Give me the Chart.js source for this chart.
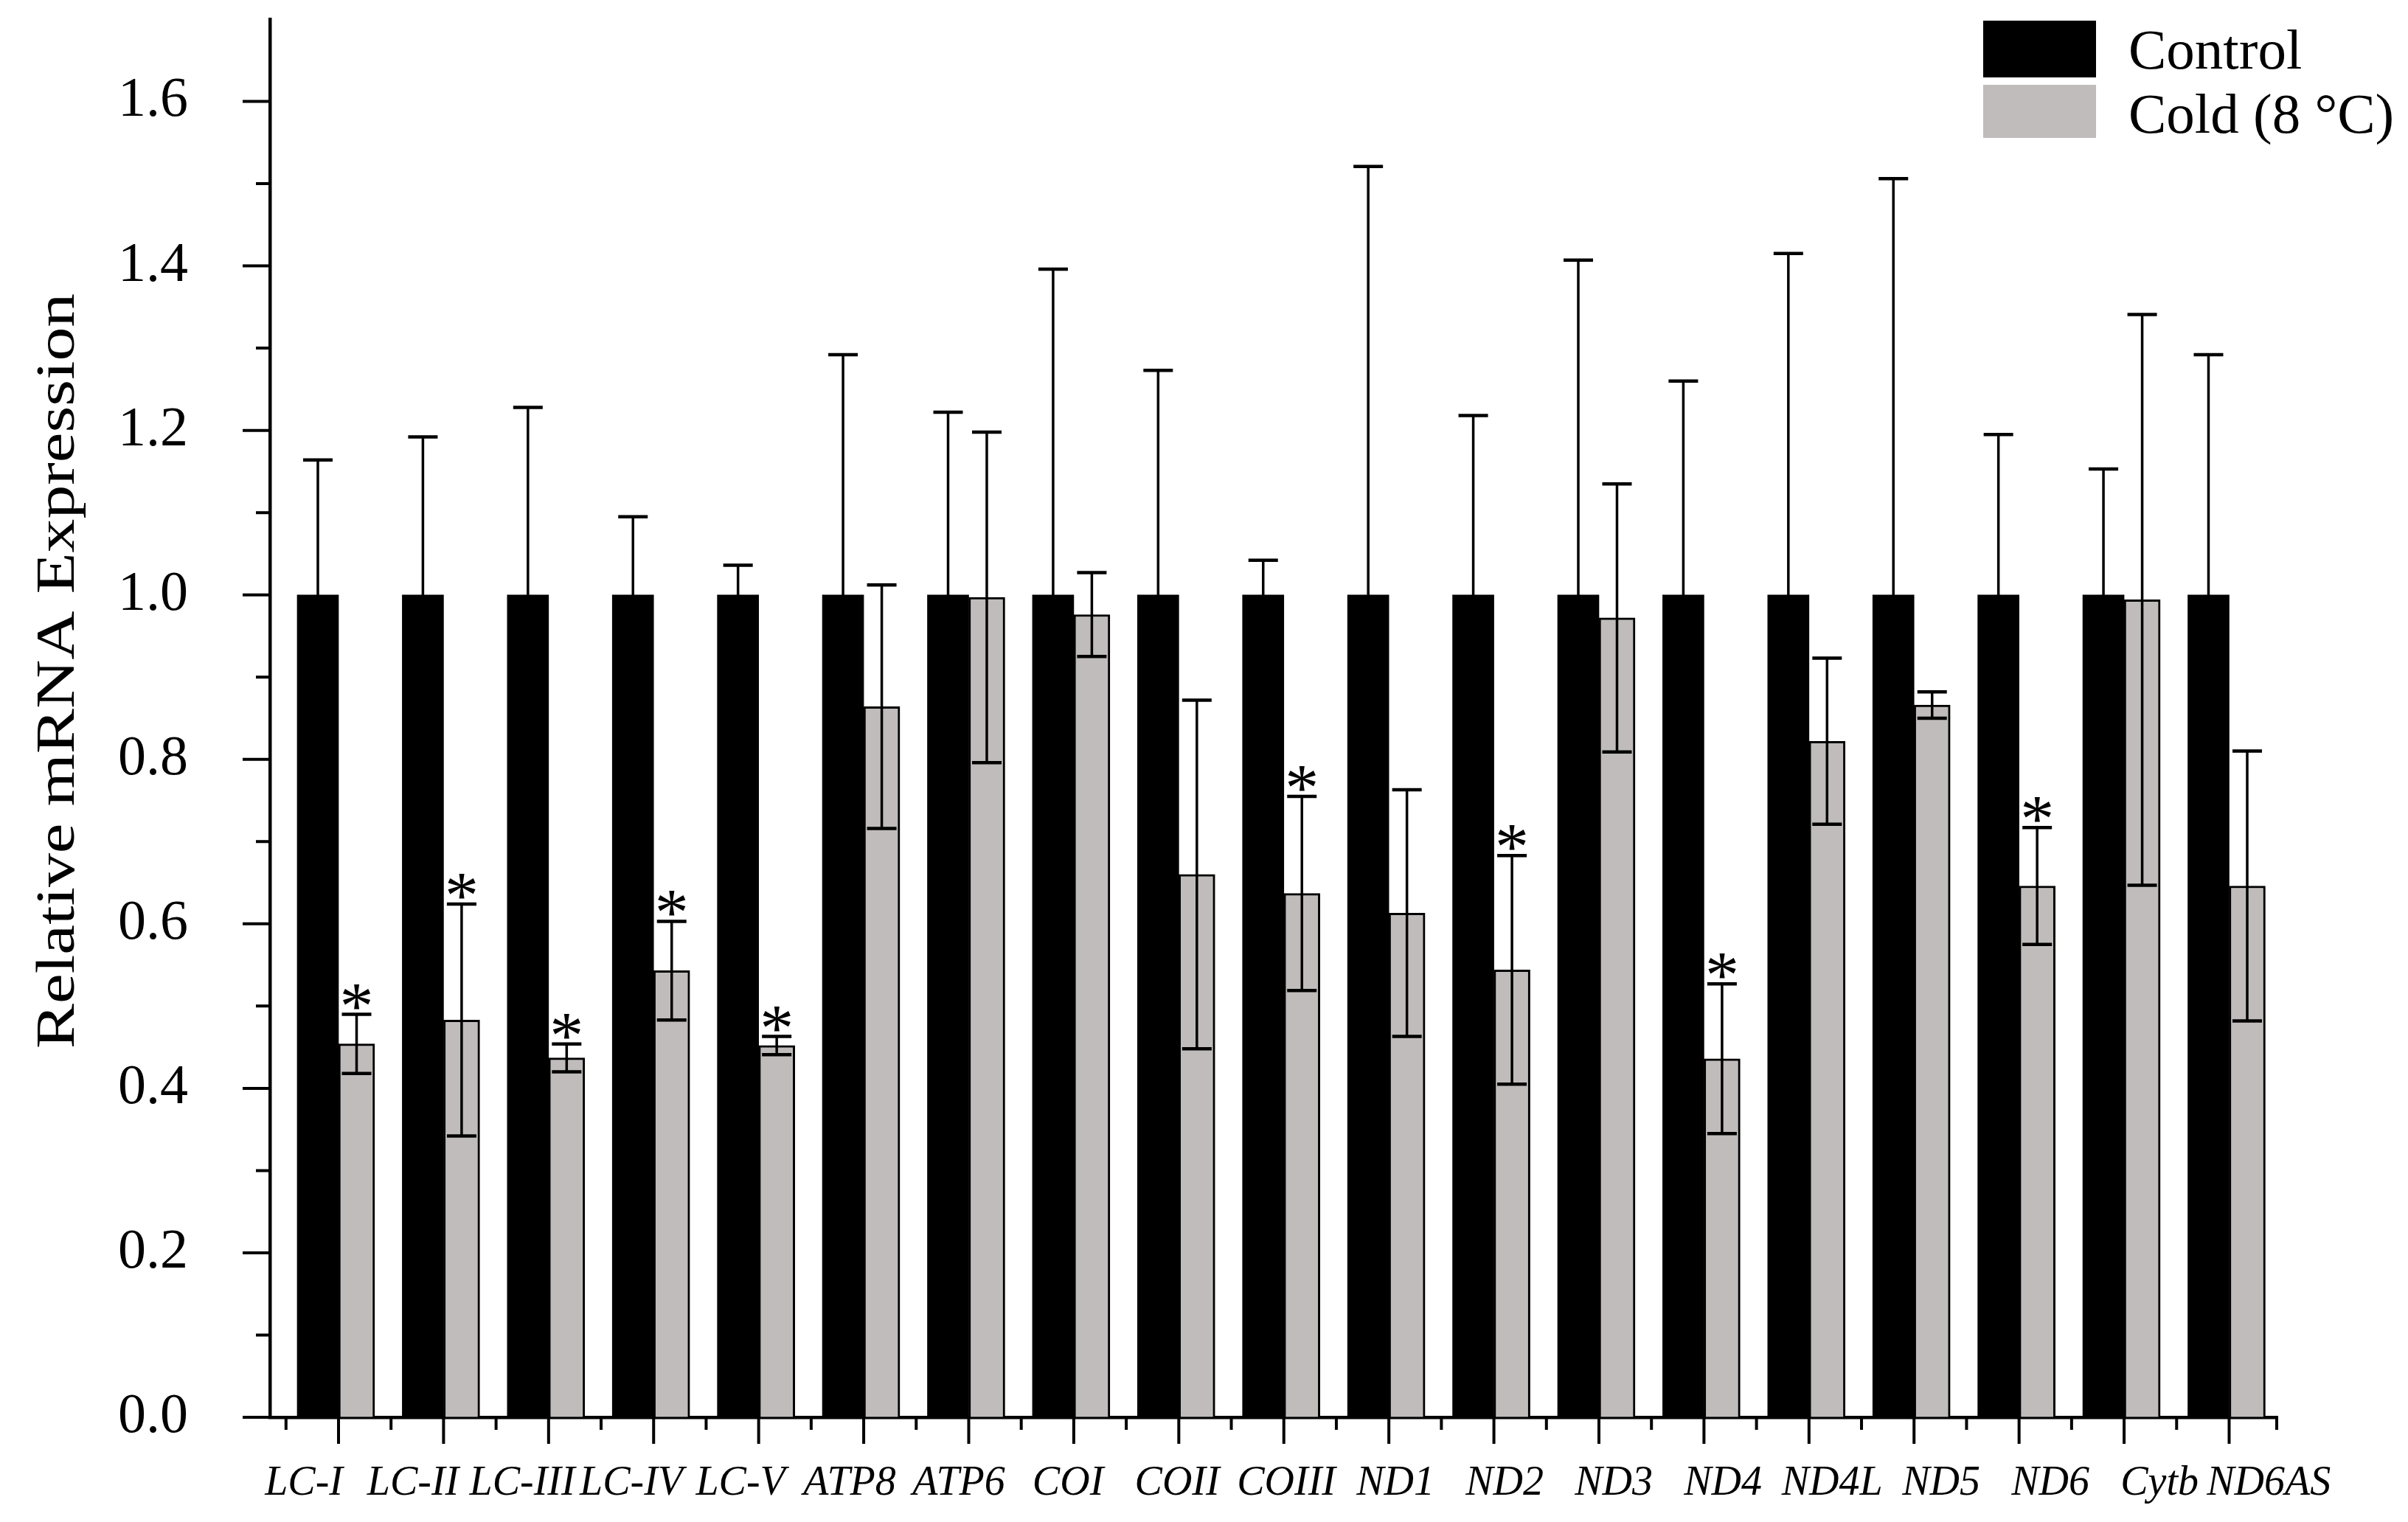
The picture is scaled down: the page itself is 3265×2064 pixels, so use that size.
<!DOCTYPE html>
<html>
<head>
<meta charset="utf-8">
<script src="https://cdn.jsdelivr.net/npm/chart.js@4.4.1/dist/chart.umd.min.js"></script>
<style>
  html, body { margin: 0; padding: 0; background: #ffffff; }
  #wrap { width: 3265px; height: 2064px; }
</style>
</head>
<body>
<div id="wrap"><canvas id="c" width="3265" height="2064"></canvas></div>
<script>
// ---------------- data ----------------
const categories = ['LC-I','LC-II','LC-III','LC-IV','LC-V','ATP8','ATP6','COI','COII','COIII',
                    'ND1','ND2','ND3','ND4','ND4L','ND5','ND6','Cytb','ND6AS'];
const controlValues = [1,1,1,1,1,1,1,1,1,1,1,1,1,1,1,1,1,1,1];
const controlErrors = [0.164,0.192,0.228,0.095,0.036,0.292,0.222,0.396,0.273,0.042,
                       0.521,0.218,0.407,0.260,0.415,0.506,0.195,0.153,0.292];
const coldValues    = [0.454,0.483,0.437,0.543,0.452,0.864,0.997,0.976,0.660,0.637,
                       0.613,0.544,0.972,0.436,0.822,0.866,0.646,0.994,0.646];
const coldErrors    = [0.036,0.141,0.017,0.060,0.011,0.148,0.201,0.051,0.212,0.118,
                       0.150,0.139,0.163,0.091,0.101,0.016,0.071,0.347,0.164];
const significant   = [true,true,true,true,true,false,false,false,false,true,
                       false,true,false,true,false,false,true,false,false];
const seriesNames   = ['Control','Cold (8 °C)'];
const yTickLabels   = ['0.0','0.2','0.4','0.6','0.8','1.0','1.2','1.4','1.6'];
const yMinorTicks   = [0.1,0.3,0.5,0.7,0.9,1.1,1.3,1.5];
const yTitle        = 'Relative mRNA Expression';

// ---------------- styles ----------------
const SERIF = "'Liberation Serif', 'Times New Roman', Times, serif";
const GRAY = '#c0bcbc';
const BLACK = '#000000';

const decor = {
  id: 'decor',
  afterDatasetsDraw(chart) {
    const ctx = chart.ctx;
    const ys = chart.scales.y;
    const sets = [[0, controlErrors], [1, coldErrors]];
    ctx.save();
    ctx.strokeStyle = BLACK;
    sets.forEach(([di, errs]) => {
      const meta = chart.getDatasetMeta(di);
      meta.data.forEach((bar, i) => {
        const v = chart.data.datasets[di].data[i].y;
        const top = ys.getPixelForValue(v + errs[i]);
        const bot = ys.getPixelForValue(v - errs[i]);
        ctx.lineWidth = 3.5;
        ctx.beginPath();
        ctx.moveTo(bar.x, top); ctx.lineTo(bar.x, bot);
        ctx.stroke();
        ctx.lineWidth = 4.5;
        ctx.beginPath();
        ctx.moveTo(bar.x - 20, top); ctx.lineTo(bar.x + 20, top);
        ctx.moveTo(bar.x - 20, bot); ctx.lineTo(bar.x + 20, bot);
        ctx.stroke();
      });
    });
    // significance asterisks
    const meta1 = chart.getDatasetMeta(1);
    ctx.fillStyle = BLACK;
    ctx.font = '92px ' + SERIF;
    ctx.textAlign = 'center';
    ctx.textBaseline = 'alphabetic';
    const m = ctx.measureText('*');
    meta1.data.forEach((bar, i) => {
      if (!significant[i]) return;
      const cap = ys.getPixelForValue(coldValues[i] + coldErrors[i]);
      const baseline = cap - 7 - m.actualBoundingBoxDescent;
      ctx.fillText('*', bar.x, baseline);
    });
    ctx.restore();
  },
  afterDraw(chart) {
    const ctx = chart.ctx;
    const ys = chart.scales.y, xs = chart.scales.x;
    const area = chart.chartArea;
    ctx.save();
    ctx.strokeStyle = BLACK;
    ctx.lineWidth = 4;
    ctx.beginPath();
    // y ticks (outward)
    yTickLabels.forEach(t => {
      const p = ys.getPixelForValue(parseFloat(t));
      ctx.moveTo(area.left - 37, p); ctx.lineTo(area.left, p);
    });
    yMinorTicks.forEach(v => {
      const p = ys.getPixelForValue(v);
      ctx.moveTo(area.left - 19, p); ctx.lineTo(area.left, p);
    });
    // x ticks: long at category centres, short at boundaries
    categories.forEach((c, i) => {
      const p = xs.getPixelForValue(i);
      ctx.moveTo(p, area.bottom); ctx.lineTo(p, area.bottom + 36);
      const q = xs.getPixelForValue(i - 0.5);
      ctx.moveTo(q, area.bottom); ctx.lineTo(q, area.bottom + 17);
    });
    const e = xs.getPixelForValue(xs.max);
    ctx.moveTo(e - 1, area.bottom); ctx.lineTo(e - 1, area.bottom + 17);
    ctx.stroke();

    // y-axis title
    ctx.fillStyle = BLACK;
    ctx.font = '74px ' + SERIF;
    ctx.textAlign = 'center';
    ctx.textBaseline = 'alphabetic';
    ctx.save();
    ctx.translate(100, 910);
    ctx.rotate(-Math.PI / 2);
    ctx.scale(1.24, 1);
    ctx.fillText(yTitle, 0, 0);
    ctx.restore();

    // legend
    const ds = chart.data.datasets;
    const lx = 2689;
    ctx.fillStyle = ds[0].backgroundColor;
    ctx.fillRect(lx, 28, 153, 77);
    ctx.fillStyle = ds[1].backgroundColor;
    ctx.fillRect(lx, 115, 153, 72);
    ctx.fillStyle = BLACK;
    ctx.font = '77px ' + SERIF;
    ctx.textAlign = 'left';
    ctx.fillText(ds[0].label, lx + 197, 93);
    ctx.fillText(ds[1].label, lx + 197, 180);
    ctx.restore();
  }
};

new Chart(document.getElementById('c'), {
  type: 'bar',
  data: {
    datasets: [
      {
        label: seriesNames[0],
        data: categories.map((c, i) => ({ x: i, y: controlValues[i] })),
        backgroundColor: BLACK,
        borderWidth: 0,
        barThickness: 56,
        xAxisID: 'x'
      },
      {
        label: seriesNames[1],
        data: categories.map((c, i) => ({ x: i, y: coldValues[i] })),
        backgroundColor: GRAY,
        borderColor: BLACK,
        borderWidth: 3,
        barThickness: 49,
        xAxisID: 'x'
      }
    ]
  },
  options: {
    responsive: false,
    animation: false,
    devicePixelRatio: 1,
    layout: { padding: { left: 0, top: 26, right: 177, bottom: 0 } },
    plugins: { legend: { display: false }, tooltip: { enabled: false } },
    scales: {
      x: {
        type: 'linear', display: false, min: -0.653, max: 18.46, offset: false,
        grid: { display: false }
      },
      xl: {
        type: 'linear', position: 'bottom', min: -0.311, max: 18.08, offset: false,
        grid: { drawOnChartArea: false, drawTicks: true, tickLength: 20, color: 'rgba(0,0,0,0)' },
        border: { display: true, color: BLACK, width: 4.5 },
        ticks: {
          stepSize: 1, includeBounds: false, autoSkip: false, maxRotation: 0, minRotation: 0,
          padding: 37, color: BLACK,
          font: { family: SERIF, size: 56, style: 'italic' },
          callback: v => (Number.isInteger(v) && categories[v] !== undefined) ? categories[v] : ''
        },
        afterFit: s => { s.height = 142; s.paddingLeft = 0; s.paddingRight = 0; }
      },
      y: {
        min: 0, max: 1.7,
        grid: { drawOnChartArea: false, drawTicks: true, tickLength: 37, color: 'rgba(0,0,0,0)' },
        border: { display: true, color: BLACK, width: 4.5 },
        ticks: {
          stepSize: 0.1, autoSkip: false, padding: 74, color: BLACK,
          font: { family: SERIF, size: 76 },
          callback: v => {
            const lab = yTickLabels.find(t => Math.abs(parseFloat(t) - v) < 1e-6);
            return lab === undefined ? '' : lab;
          }
        },
        afterFit: s => { s.width = 366; s.paddingTop = 0; s.paddingBottom = 0; }
      }
    }
  },
  plugins: [decor]
});
</script>
</body>
</html>
